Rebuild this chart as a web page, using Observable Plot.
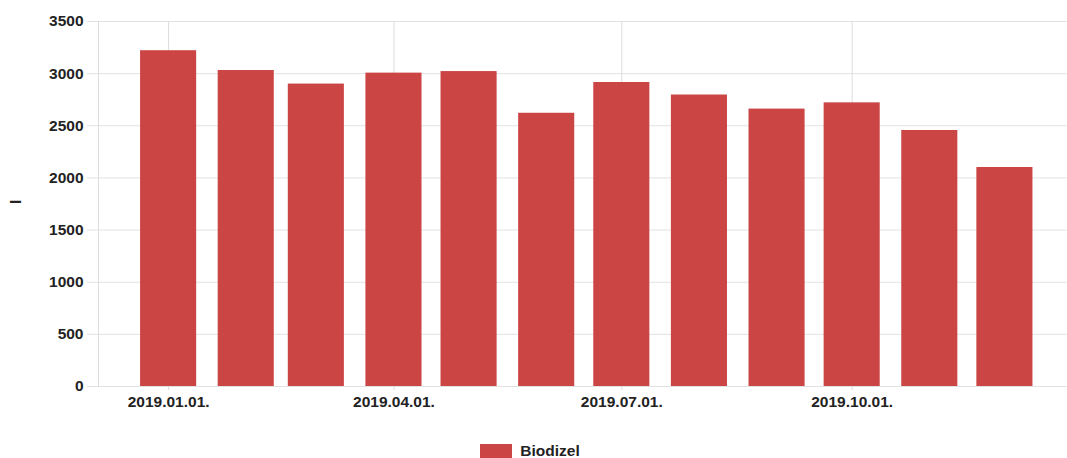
<!DOCTYPE html>
<html>
<head>
<meta charset="utf-8">
<script src="https://cdn.jsdelivr.net/npm/d3@7"></script>
<script src="https://cdn.jsdelivr.net/npm/@observablehq/plot@0.6"></script>
<style>
  html, body { margin: 0; padding: 0; background: #fff; }
  body { width: 1067px; height: 458px; overflow: hidden; font-family: "Liberation Sans", Arial, sans-serif; color: #222; }
  #chart svg { display: block; }
  .legend { display: flex; justify-content: center; align-items: center; gap: 8px; padding-top: 13px; margin-left: -7px; }
  .legend .sw { width: 32px; height: 14px; background: #cc4545; }
  .legend .lb { font-size: 15.5px; font-weight: bold; line-height: 16px; }
</style>
</head>
<body>
<div id="chart"></div>
<script>
const months = ["2019-01-01","2019-02-01","2019-03-01","2019-04-01","2019-05-01","2019-06-01",
                "2019-07-01","2019-08-01","2019-09-01","2019-10-01","2019-11-01","2019-12-01"];
const biodizel = [3220, 3030, 2900, 3005, 3020, 2620, 2915, 2795, 2660, 2720, 2455, 2100];
const xTicks = ["2019-01-01","2019-04-01","2019-07-01","2019-10-01"];
const xTickLabels = ["2019.01.01.","2019.04.01.","2019.07.01.","2019.10.01."];
const yTicks = [0, 500, 1000, 1500, 2000, 2500, 3000, 3500];
const yTickLabels = ["0","500","1000","1500","2000","2500","3000","3500"];
const xDomain = ["2018-12-04", "2019-12-26"];
const seriesName = "Biodizel";
const yLabel = "l";

const color = "#cc4545";
const data = months.map((m, i) => ({date: new Date(m), value: biodizel[i]}));
const tickDates = xTicks.map(d => new Date(d));
const domain = xDomain.map(d => new Date(d));
const half = 11.2 * 864e5;

const chart = Plot.plot({
  width: 1067,
  height: 430,
  marginTop: 21,
  marginBottom: 44,
  marginLeft: 98,
  marginRight: 0,
  style: {fontFamily: "'Liberation Sans', Arial, sans-serif", color: "#222", background: "#fff"},
  x: {type: "utc", domain},
  y: {domain: [0, 3500]},
  marks: [
    Plot.gridY(yTicks, {stroke: "#e2e2e2", strokeOpacity: 1}),
    Plot.gridX([domain[0], ...tickDates], {stroke: "#dcdcdc", strokeOpacity: 1}),
    Plot.rectY(data, {
      x1: d => new Date(+d.date - half),
      x2: d => new Date(+d.date + half),
      y: "value",
      fill: color
    }),
    Plot.axisY(yTicks, {
      tickSize: 11, stroke: "#e2e2e2", tickPadding: 4,
      fontSize: 15.5, fontWeight: "bold", label: null,
      tickFormat: (d, i) => yTickLabels[i]
    }),
    Plot.axisX(tickDates, {
      tickSize: 4, stroke: "#dcdcdc", tickPadding: 5,
      fontSize: 15.5, fontWeight: "bold", label: null,
      tickFormat: (d, i) => xTickLabels[i]
    }),
    Plot.text([yLabel], {
      text: d => d, frameAnchor: "left", dx: -82, rotate: -90,
      fontSize: 15.5, fontWeight: "bold", fill: "#222"
    })
  ]
});
document.getElementById("chart").appendChild(chart);

const legend = document.createElement("div");
legend.className = "legend";
legend.innerHTML = `<span class="sw"></span><span class="lb">${seriesName}</span>`;
document.body.appendChild(legend);
</script>
</body>
</html>
